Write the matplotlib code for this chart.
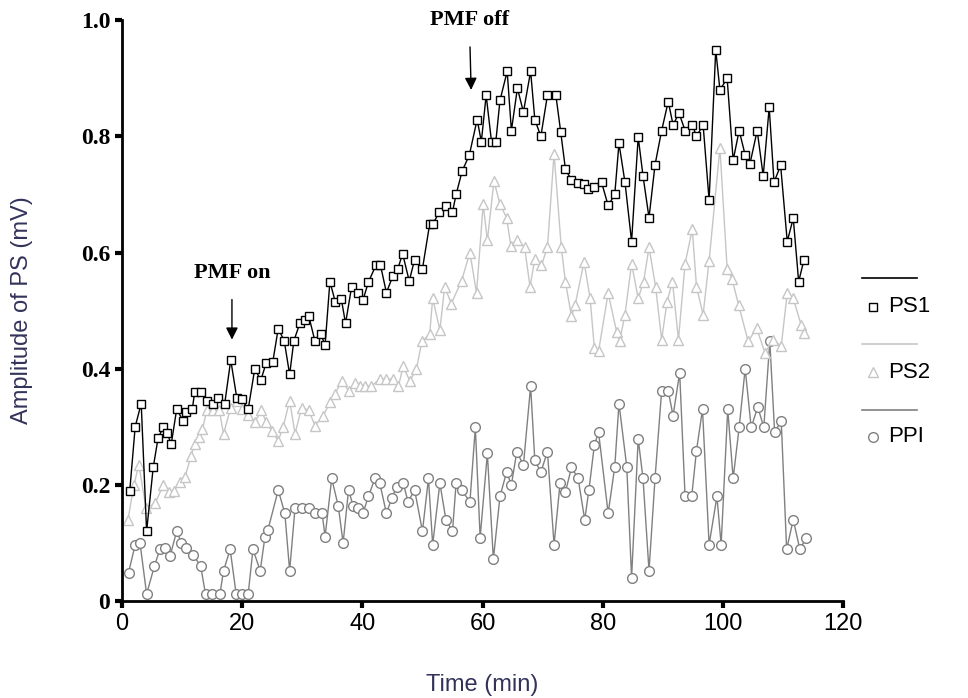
import matplotlib
matplotlib.use('Agg')
import matplotlib.pyplot as plt
from matplotlib.lines import Line2D

# time (min) and amplitude (mV) for each trace
ps1_t = [1.3, 2.2, 3.2, 4.1, 5.2, 6.0, 6.9, 7.5, 8.2, 9.1, 10.2, 10.7, 11.7, 12.1, 13.1,
         14.1, 15.2, 16.0, 17.1, 18.1, 19.1, 19.9, 21.0, 22.1, 23.1, 24.0, 25.1, 26.0,
         27.0, 27.9, 28.6, 29.6, 30.4, 31.1, 32.1, 33.1, 33.8, 34.6, 35.5, 36.5, 37.2,
         38.2, 39.3, 40.1, 41.0, 42.3, 43.0, 44.0, 45.1, 45.9, 46.7, 47.8, 48.7, 50.0,
         51.2, 51.7, 52.8, 53.9, 55.0, 55.6, 56.6, 57.8, 59.1, 59.8, 60.6, 61.5, 62.2,
         62.9, 64.1, 64.8, 65.8, 66.8, 68.0, 68.7, 69.7, 70.8, 72.2, 73.0, 73.8, 74.8,
         75.8, 76.9, 77.5, 78.6, 79.8, 80.9, 82.0, 82.7, 83.7, 84.8, 85.9, 86.7, 87.7,
         88.7, 89.8, 90.9, 91.7, 92.7, 93.7, 94.9, 95.6, 96.7, 97.7, 98.8, 99.5, 100.7,
         101.7, 102.7, 103.7, 104.5, 105.7, 106.7, 107.7, 108.5, 109.6, 110.7, 111.7,
         112.6, 113.5]
ps1_v = [0.19, 0.30, 0.34, 0.12, 0.23, 0.28, 0.30, 0.29, 0.27, 0.33, 0.31, 0.325, 0.33,
         0.36, 0.36, 0.345, 0.34, 0.35, 0.34, 0.415, 0.35, 0.348, 0.33, 0.40, 0.38, 0.41,
         0.412, 0.469, 0.448, 0.39, 0.448, 0.478, 0.484, 0.49, 0.448, 0.459, 0.441, 0.55,
         0.515, 0.52, 0.478, 0.54, 0.53, 0.518, 0.549, 0.579, 0.579, 0.531, 0.56, 0.572,
         0.598, 0.551, 0.588, 0.572, 0.649, 0.649, 0.669, 0.68, 0.67, 0.70, 0.74, 0.768,
         0.829, 0.791, 0.871, 0.79, 0.79, 0.862, 0.912, 0.81, 0.883, 0.842, 0.912, 0.829,
         0.80, 0.871, 0.871, 0.808, 0.743, 0.725, 0.72, 0.718, 0.709, 0.712, 0.721, 0.681,
         0.70, 0.788, 0.721, 0.619, 0.799, 0.732, 0.66, 0.751, 0.81, 0.86, 0.82, 0.84,
         0.81, 0.82, 0.80, 0.82, 0.69, 0.949, 0.88, 0.90, 0.759, 0.81, 0.768, 0.753, 0.81,
         0.732, 0.85, 0.721, 0.75, 0.619, 0.659, 0.55, 0.588]

ps2_t = [1.0, 2.0, 2.8, 4.0, 5.5, 6.9, 7.8, 8.7, 9.6, 10.5, 11.5, 12.1, 12.8, 13.4, 14.1,
         15.2, 16.2, 16.9, 18.1, 19.1, 20.0, 21.0, 22.1, 23.2, 24.0, 24.9, 26.0, 26.8,
         27.9, 28.8, 29.9, 31.1, 32.1, 33.5, 34.6, 35.4, 36.6, 37.7, 38.8, 39.6, 40.4,
         41.5, 42.9, 44.0, 45.1, 46.0, 46.8, 47.9, 49.0, 49.9, 51.2, 51.7, 52.9, 53.7,
         54.8, 56.5, 57.9, 59.0, 60.1, 60.8, 61.9, 62.9, 64.0, 64.7, 65.8, 67.0, 67.9,
         68.7, 69.8, 70.8, 71.9, 73.1, 73.8, 74.8, 75.4, 76.9, 77.9, 78.6, 79.3, 80.9,
         82.3, 82.8, 83.7, 84.8, 85.9, 86.8, 87.7, 88.8, 89.8, 90.7, 91.6, 92.6, 93.7,
         94.9, 95.6, 96.7, 97.7, 99.5, 100.7, 101.5, 102.6, 104.2, 105.6, 107.0, 108.3,
         109.7, 110.7, 111.7, 113.0, 113.5]
ps2_v = [0.14, 0.20, 0.235, 0.16, 0.168, 0.20, 0.188, 0.19, 0.205, 0.214, 0.25, 0.27,
         0.282, 0.296, 0.328, 0.328, 0.328, 0.288, 0.333, 0.345, 0.33, 0.32, 0.308, 0.328,
         0.308, 0.293, 0.276, 0.299, 0.345, 0.288, 0.333, 0.328, 0.302, 0.319, 0.342,
         0.356, 0.379, 0.362, 0.376, 0.37, 0.37, 0.37, 0.382, 0.382, 0.382, 0.37, 0.404,
         0.379, 0.399, 0.447, 0.459, 0.521, 0.467, 0.541, 0.512, 0.551, 0.60, 0.53, 0.683,
         0.621, 0.723, 0.683, 0.66, 0.612, 0.621, 0.609, 0.541, 0.589, 0.578, 0.609, 0.77,
         0.609, 0.549, 0.49, 0.51, 0.584, 0.521, 0.436, 0.43, 0.53, 0.464, 0.447, 0.493,
         0.581, 0.521, 0.55, 0.609, 0.541, 0.45, 0.515, 0.55, 0.45, 0.581, 0.64, 0.541,
         0.493, 0.586, 0.78, 0.572, 0.555, 0.51, 0.447, 0.47, 0.427, 0.45, 0.439, 0.53,
         0.521, 0.476, 0.461]

ppi_t = [1.1, 2.2, 3.0, 4.1, 5.4, 6.3, 7.2, 8.0, 9.1, 9.9, 10.7, 11.8, 13.1, 13.9, 14.9,
         16.3, 16.9, 18.0, 19.0, 20.0, 21.0, 21.8, 23.0, 23.8, 24.3, 26.0, 27.1, 27.9,
         28.8, 29.9, 31.1, 32.1, 33.3, 33.8, 34.9, 36.0, 36.8, 37.7, 38.5, 39.3, 40.1,
         41.0, 42.1, 42.9, 44.0, 44.9, 45.7, 46.8, 47.6, 48.7, 50.0, 51.0, 51.7, 52.9,
         53.9, 55.0, 55.6, 56.5, 57.9, 58.8, 59.6, 60.8, 61.8, 62.9, 64.0, 64.8, 65.7,
         66.8, 68.0, 68.7, 69.7, 70.8, 71.9, 72.9, 73.8, 74.8, 75.9, 77.0, 77.7, 78.6,
         79.3, 80.9, 82.0, 82.7, 84.0, 84.8, 85.9, 86.7, 87.7, 88.7, 89.8, 90.9, 91.7,
         92.8, 93.7, 94.8, 95.6, 96.6, 97.7, 99.0, 99.7, 100.8, 101.7, 102.7, 103.7,
         104.7, 105.8, 106.8, 107.8, 108.6, 109.7, 110.6, 111.7, 112.8, 113.9]
ppi_v = [0.049, 0.097, 0.10, 0.012, 0.06, 0.089, 0.092, 0.077, 0.12, 0.10, 0.092, 0.08,
         0.06, 0.012, 0.012, 0.012, 0.052, 0.089, 0.012, 0.012, 0.012, 0.089, 0.052, 0.111,
         0.123, 0.191, 0.151, 0.052, 0.16, 0.16, 0.16, 0.151, 0.151, 0.111, 0.211, 0.163,
         0.10, 0.191, 0.163, 0.16, 0.151, 0.18, 0.211, 0.203, 0.151, 0.177, 0.197, 0.203,
         0.171, 0.191, 0.12, 0.211, 0.097, 0.203, 0.14, 0.12, 0.203, 0.191, 0.171, 0.299,
         0.109, 0.254, 0.072, 0.18, 0.222, 0.20, 0.257, 0.234, 0.37, 0.242, 0.222, 0.257,
         0.097, 0.203, 0.188, 0.23, 0.211, 0.14, 0.191, 0.268, 0.291, 0.151, 0.231, 0.34,
         0.231, 0.04, 0.279, 0.211, 0.052, 0.211, 0.362, 0.362, 0.319, 0.393, 0.18, 0.18,
         0.259, 0.33, 0.097, 0.18, 0.097, 0.33, 0.211, 0.299, 0.40, 0.299, 0.334, 0.299,
         0.447, 0.291, 0.31, 0.089, 0.14, 0.089, 0.109]

x_ticks = [0, 20, 40, 60, 80, 100, 120]
y_ticks = [0, 0.2, 0.4, 0.6, 0.8, 1.0]
y_tick_labels = ['0', '0.2', '0.4', '0.6', '0.8', '1.0']

ps1_color = 'black'
ps2_color = '#c6c6c6'
ppi_color = '#808080'
label_color = '#33335a'

fig = plt.figure(figsize=(9.68, 6.98), dpi=100)
ax = fig.add_axes([0.126, 0.139, 0.745, 0.832])

ax.plot(ppi_t, ppi_v, '-o', color=ppi_color, lw=1, ms=7, mfc='white', mec=ppi_color,
        mew=1, clip_on=False)
ax.plot(ps2_t, ps2_v, '-^', color=ps2_color, lw=1, ms=7, mfc='white', mec=ps2_color,
        mew=1, clip_on=False)
ax.plot(ps1_t, ps1_v, '-s', color=ps1_color, lw=1, ms=6, mfc='white', mec=ps1_color,
        mew=1, clip_on=False)

ax.set_xlim(0, 120)
ax.set_ylim(0, 1.0)
ax.set_xticks(x_ticks)
ax.set_yticks(y_ticks)
ax.set_yticklabels(y_tick_labels)

for s in ['top', 'right']:
    ax.spines[s].set_visible(False)
for s in ['left', 'bottom']:
    ax.spines[s].set_linewidth(2)

ax.tick_params(axis='both', direction='out', length=5, width=3, color='black')
for lbl in ax.get_yticklabels():
    lbl.set_fontfamily('Liberation Serif')
    lbl.set_fontweight('bold')
    lbl.set_fontsize(17)
for lbl in ax.get_xticklabels():
    lbl.set_fontfamily('Liberation Sans')
    lbl.set_fontsize(17)

ax.set_xlabel('Time (min)', fontsize=17, family='Liberation Sans', color=label_color,
              labelpad=28)
ax.set_ylabel('Amplitude of PS (mV)', fontsize=17, family='Liberation Sans',
              color=label_color, labelpad=34)

# stimulation markers
ax.annotate('PMF on', xy=(18.3, 0.45), xytext=(18.3, 0.565), ha='center', va='center',
            fontsize=16, fontweight='bold', family='Liberation Serif',
            arrowprops=dict(arrowstyle='-|>', color='black', lw=1, shrinkA=10, shrinkB=0,
                            mutation_scale=18))
ax.annotate('PMF off', xy=(58.1, 0.88), xytext=(57.8, 1.0), ha='center', va='center',
            fontsize=16, fontweight='bold', family='Liberation Serif',
            annotation_clip=False,
            arrowprops=dict(arrowstyle='-|>', color='black', lw=1, shrinkA=10, shrinkB=0,
                            mutation_scale=18))

# legend: line on one row, marker and name on the next
legend_items = [('PS1', ps1_color, 's', 6), ('PS2', ps2_color, '^', 7),
                ('PPI', ppi_color, 'o', 7)]
for i, (name, c, m, ms) in enumerate(legend_items):
    y_line = 1 - (278 + i * 66) / 698
    y_mark = 1 - (307 + i * 65) / 698
    fig.add_artist(Line2D([862 / 968, 917 / 968], [y_line, y_line], color=c, lw=1.2))
    fig.add_artist(Line2D([873 / 968], [y_mark], marker=m, ms=ms, mfc='white', mec=c,
                          mew=1, linestyle='none'))
    fig.text(888 / 968, y_mark, name, fontsize=16, family='Liberation Sans',
             va='center', ha='left')

fig.savefig('out.png', dpi=100)
